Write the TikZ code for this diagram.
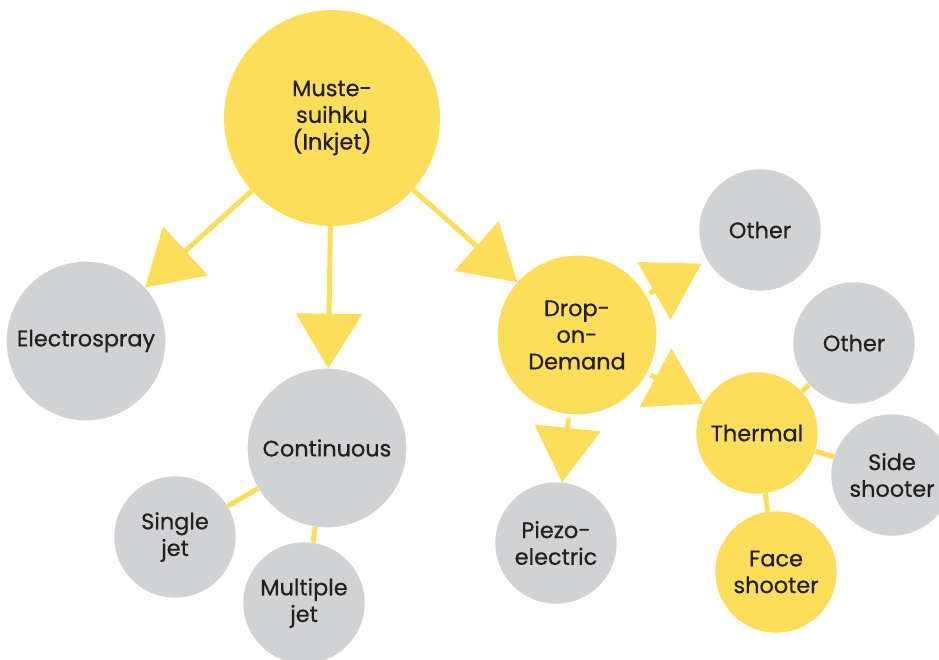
\documentclass[tikz,border=0pt]{standalone}
\usepackage{fontspec}
\setmainfont{Poppins}[BoldFont=Poppins, BoldFeatures={FakeBold=0.6}]
\usetikzlibrary{positioning,arrows.meta}
\definecolor{inkyellow}{HTML}{FCDE5A}
\definecolor{inkgrey}{HTML}{D1D2D4}
\definecolor{inktext}{HTML}{231F20}

\begin{document}
\begin{tikzpicture}[x=0.75pt, y=-0.75pt,
			basenode/.style={circle, inner sep=0pt, align=center, text=inktext, font=\fontsize{16.8}{20}\selectfont\bfseries},
			yellownode/.style={basenode, fill=inkyellow},
			greynode/.style={basenode, fill=inkgrey},
			bignode/.style={minimum size=162pt},
			midnode/.style={minimum size=119pt},
			smallnode/.style={minimum size=91pt},
			arrowline/.style={draw=inkyellow, line width=3.75pt, -{Triangle[length=41pt, width=49pt]}},
			plainline/.style={draw=inkyellow, line width=3.75pt},
		]
		
			\useasboundingbox (0,0) rectangle (939,660);
		
			%Nodes
			\node[yellownode, bignode]	(ink)		at (332,118)	{Muste-\\suihku\\(Inkjet)};
			\node[greynode, midnode]	(spray)		at (86,341)		{Electrospray};
			\node[greynode, midnode]	(cont)		at (327,448)	{Continuous};
			\node[greynode, smallnode]	(single)	at (175,537)	{Single\\jet};
			\node[greynode, smallnode]	(multi)		at (304,603)	{Multiple\\jet};
			\node[yellownode, midnode]	(dod)		at (577,335)	{Drop-\\on-\\Demand};
			\node[greynode, smallnode]	(other1)	at (760,230)	{Other};
			\node[greynode, smallnode]	(piezo)		at (556,543)	{Piezo-\\electric};
			\node[yellownode, smallnode]	(thermal)	at (757,433)	{Thermal};
			\node[greynode, smallnode]	(other2)	at (854,343)	{Other};
			\node[greynode, smallnode]	(side)		at (892,475)	{Side\\shooter};
			\node[yellownode, smallnode]	(face)		at (776,572)	{Face\\shooter};
		
			%Lines
			\draw[arrowline]	(ink) -- (spray);
			\draw[arrowline]	(ink) -- (cont);
			\draw[arrowline]	(ink) -- (dod);
			\draw[arrowline, shorten <=3pt, shorten >=5pt]	(dod) -- (other1);
			\draw[arrowline, shorten <=3pt]	(dod) -- (thermal);
			\draw[arrowline, shorten <=3pt]	(dod) -- (piezo);
			\draw[plainline]	(cont) -- (single);
			\draw[plainline]	(cont) -- (multi);
			\draw[plainline]	(thermal) -- (other2);
			\draw[plainline]	(thermal) -- (side);
			\draw[plainline]	(thermal) -- (face);
		
		\end{tikzpicture}
\end{document}
